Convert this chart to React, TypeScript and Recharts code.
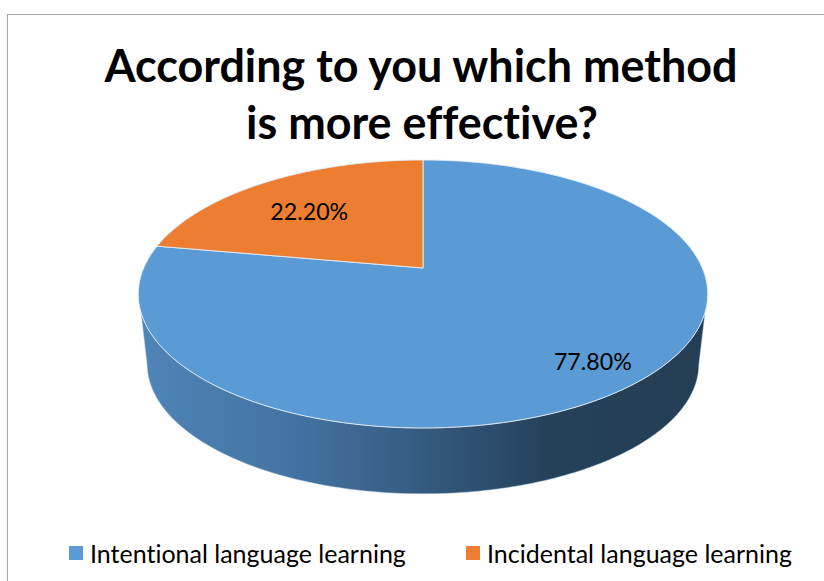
import React from 'react';
import { PieChart, Pie, Legend } from 'recharts';

const categories = ['Intentional language learning', 'Incidental language learning'];
const values = [77.8, 22.2];
const valueLabels = ['77.80%', '22.20%'];
const colors = ['#5b9bd5', '#ed7d31'];
const titleLines = ['According to you which method', 'is more effective?'];

const tableData = categories.map((name, i) => ({ name, value: values[i], fill: colors[i], label: valueLabels[i] }));

// the tilted disc: a circle under a perspective projection
const APEX_X = 423;
const APEX_Y = 268;
const PERSP = 0.194;
const SCALE_X = 279.3;
const SLOPE_Y = -76.96;
const ELLIPSE_Y = 294; // middle of the drawn ellipse, not the apex
const BASE_Y = 364;
const BASE_SCALE = 0.969;
const FONT = 'Lato, sans-serif';

function project(angle: number, r = 1) {
  const rad = (angle * Math.PI) / 180;
  const u = r * Math.cos(rad);
  const v = r * Math.sin(rad);
  const d = 1 + PERSP * v;
  return { x: APEX_X + (SCALE_X * u) / d, y: (SLOPE_Y * v + APEX_Y) / d };
}

function projectBase(angle: number) {
  const p = project(angle);
  return { x: APEX_X + BASE_SCALE * (p.x - APEX_X), y: BASE_Y + BASE_SCALE * (p.y - ELLIPSE_Y) };
}

function sweep(start: number, end: number) {
  const out: number[] = [];
  const n = Math.max(2, Math.ceil(Math.abs(end - start)));
  for (let i = 0; i <= n; i++) out.push(start + ((end - start) * i) / n);
  return out;
}

function toPath(pts: { x: number; y: number }[]) {
  return pts.map((p, i) => `${i ? 'L' : 'M'}${p.x.toFixed(2)},${p.y.toFixed(2)}`).join(' ');
}

function TopSlice(props: any) {
  const { startAngle, endAngle, fill } = props;
  const pts = sweep(startAngle, endAngle).map((a) => project(a));
  const d = `M${APEX_X},${APEX_Y} ${toPath(pts).replace('M', 'L')} Z`;
  return <path d={d} fill={fill} stroke="#e4edf6" strokeWidth={0.9} strokeLinejoin="round" />;
}

function WallSlice(props: any) {
  const { startAngle, endAngle } = props;
  const angles = sweep(startAngle, endAngle);
  const top = angles.map((a) => project(a)).filter((p) => p.y >= 310);
  const base = angles.map((a) => projectBase(a)).filter((p) => p.y >= BASE_Y);
  if (!top.length || !base.length) return <g />;
  const d = `${toPath(top)} ${toPath(base.reverse()).replace('M', 'L')} Z`;
  return <path d={d} fill="url(#wallShade)" stroke="#c9dcee" strokeWidth={0.5} />;
}

const labelRadius = [0.83, 0.7];
const labelShift = [-1, 6];

function renderValueLabel(props: any) {
  const { index, midAngle } = props;
  const p = project(midAngle, labelRadius[index]);
  return (
    <text
      x={p.x}
      y={p.y + labelShift[index]}
      textAnchor="middle"
      dominantBaseline="central"
      fontFamily={FONT}
      fontSize={23.2}
      fill="#000"
    >
      {valueLabels[index]}
    </text>
  );
}

function LegendRow({ payload }: any) {
  const gaps = [69, 466];
  // both pies report their slices, keep one entry per category in data order
  const items = (payload || [])
    .filter((item: any, i: number, all: any[]) => all.findIndex((o) => o.value === item.value) === i)
    .sort((a: any, b: any) => categories.indexOf(a.value) - categories.indexOf(b.value));
  return (
    <div>
      {items.map((item: any, i: number) => (
        <div
          key={item.value}
          style={{
            position: 'absolute',
            left: gaps[i],
            top: 536,
            display: 'flex',
            alignItems: 'center',
            fontFamily: FONT,
            fontSize: 25,
            lineHeight: '34px',
            color: '#000',
            whiteSpace: 'nowrap',
            fontVariantLigatures: 'none',
          }}
        >
          <span style={{ width: 14, height: 14, background: item.color, marginRight: 7, display: 'inline-block' }} />
          {item.value}
        </div>
      ))}
    </div>
  );
}

export default function App() {
  return (
    <div style={{ position: 'absolute', left: 0, top: 0, width: 824, height: 581, background: '#fff', overflow: 'hidden' }}>
      <div style={{ position: 'absolute', left: 7, top: 14, width: 817, height: 567, borderLeft: '1.5px solid #a6a6a6', borderTop: '1.5px solid #a6a6a6' }} />
      <div style={{ position: 'absolute', left: 0, top: 0 }}>
        <PieChart width={824} height={581} margin={{ top: 0, right: 0, bottom: 0, left: 0 }}>
          <defs>
            <linearGradient id="wallShade" gradientUnits="userSpaceOnUse" x1={147} y1={0} x2={699} y2={0}>
              <stop offset="0" stopColor="#4f84b8" />
              <stop offset="0.3" stopColor="#41709d" />
              <stop offset="0.52" stopColor="#34587c" />
              <stop offset="0.72" stopColor="#25425b" />
              <stop offset="1" stopColor="#243e54" />
            </linearGradient>
          </defs>
          <text x={421} y={82} textAnchor="middle" fontFamily={FONT} fontWeight={700} fontSize={44.9} fill="#000" style={{ fontVariantLigatures: 'none' }}>
            {titleLines[0]}
          </text>
          <text x={422} y={139} textAnchor="middle" fontFamily={FONT} fontWeight={700} fontSize={44.9} fill="#000" style={{ fontVariantLigatures: 'none' }}>
            {titleLines[1]}
          </text>
          <Pie
            data={tableData}
            dataKey="value"
            nameKey="name"
            cx={APEX_X}
            cy={APEX_Y}
            outerRadius={100}
            startAngle={90}
            endAngle={-270}
            legendType="none"
            shape={WallSlice}
            inactiveShape={WallSlice}
            isAnimationActive={false}
          />
          <Pie
            data={tableData}
            dataKey="value"
            nameKey="name"
            cx={APEX_X}
            cy={APEX_Y}
            outerRadius={100}
            startAngle={90}
            endAngle={-270}
            shape={TopSlice}
            inactiveShape={TopSlice}
            label={renderValueLabel}
            labelLine={false}
            isAnimationActive={false}
          />
          <Legend content={<LegendRow />} wrapperStyle={{ position: 'absolute', left: 0, top: 0, bottom: 'auto', width: 824, height: 0 }} />
        </PieChart>
      </div>
    </div>
  );
}
